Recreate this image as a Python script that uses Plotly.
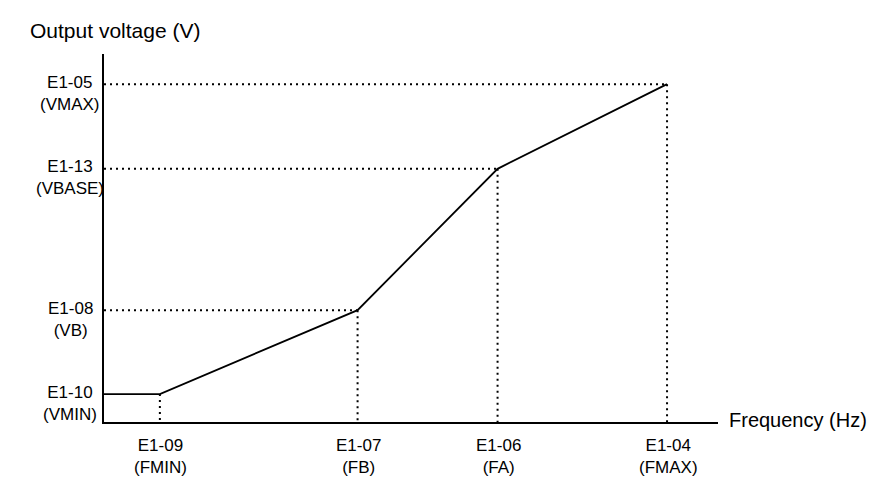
import plotly.graph_objects as go

# characteristic points of the V/f pattern (arbitrary units 0-100)
freq = [9.1, 41.3, 64.1, 91.7]
volt = [7.6, 30.4, 68.8, 91.8]
freq_labels = ["E1-09<br>(FMIN)", "E1-07<br>(FB)", "E1-06<br>(FA)", "E1-04<br>(FMAX)"]
volt_labels = ["E1-10<br>(VMIN)", "E1-08<br>(VB)", "E1-13<br>(VBASE)", "E1-05<br>(VMAX)"]

FONT = "Arial, Liberation Sans, sans-serif"

fig = go.Figure()

# dotted guide lines from each point to the axes
gx, gy = [], []
for i, (f, v) in enumerate(zip(freq, volt)):
    if i > 0:
        gx += [0, f, None]
        gy += [v, v, None]
    gx += [f, f, None]
    gy += [v, 0, None]
fig.add_trace(go.Scatter(x=gx, y=gy, mode="lines",
                         line=dict(color="black", width=2, dash="2px,4px"),
                         hoverinfo="skip", showlegend=False))

# the V/f curve
fig.add_trace(go.Scatter(x=[0] + freq, y=[volt[0]] + volt, mode="lines",
                         line=dict(color="black", width=1.8),
                         showlegend=False))

ann = []
for v, t in zip(volt, volt_labels):
    ann.append(dict(x=0, y=v, xref="x", yref="y", text=t, showarrow=False,
                    xanchor="center", yanchor="middle", xshift=-34, yshift=-9,
                    align="center", font=dict(size=17, color="black", family=FONT)))
for f, t in zip(freq, freq_labels):
    ann.append(dict(x=f, y=0, xref="x", yref="paper", text=t, showarrow=False,
                    xanchor="center", yanchor="middle", xshift=1, yshift=-34,
                    align="center", font=dict(size=17, color="black", family=FONT)))
ann.append(dict(x=0, y=1, xref="paper", yref="paper", text="Output voltage (V)",
                showarrow=False, xanchor="left", yanchor="middle", xshift=-76, yshift=24,
                font=dict(size=21, color="black", family=FONT)))
ann.append(dict(x=1, y=0, xref="paper", yref="paper", text="Frequency (Hz)",
                showarrow=False, xanchor="left", yanchor="middle", xshift=9, yshift=2,
                font=dict(size=20, color="black", family=FONT)))

fig.update_layout(
    width=877, height=496,
    margin=dict(l=96, r=167, t=46, b=82),
    plot_bgcolor="white", paper_bgcolor="white",
    annotations=ann,
    xaxis=dict(range=[0, 100], showline=True, linecolor="black", linewidth=2,
               showgrid=False, zeroline=False, showticklabels=False, ticks=""),
    yaxis=dict(range=[0, 100], showline=True, linecolor="black", linewidth=2,
               showgrid=False, zeroline=False, showticklabels=False, ticks=""),
)

fig.write_html("out.html")
